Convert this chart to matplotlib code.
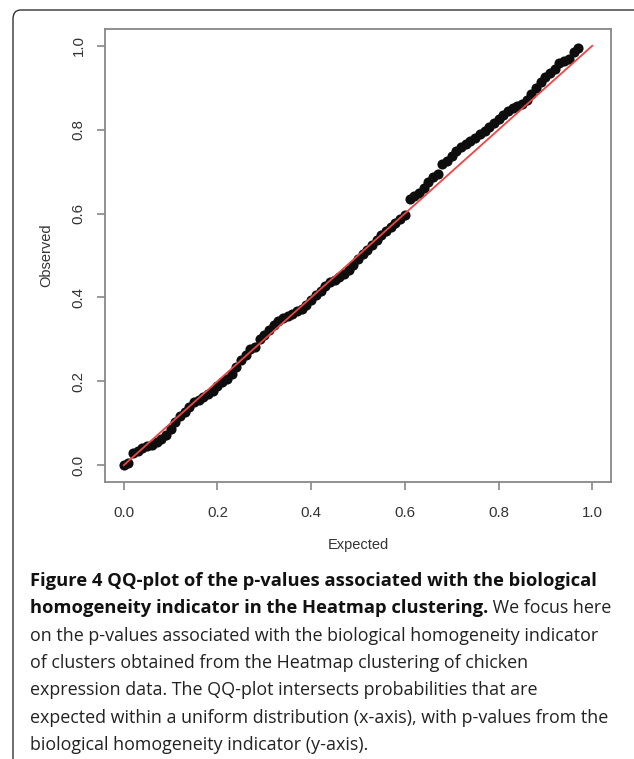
import matplotlib.pyplot as plt
from matplotlib.patches import FancyBboxPatch

# expected quantiles (x) and observed p-values (y)
expected = [0.00, 0.01, 0.02, 0.03, 0.04, 0.05, 0.06, 0.07, 0.08, 0.09,
            0.10, 0.11, 0.12, 0.13, 0.14, 0.15, 0.16, 0.17, 0.18, 0.19,
            0.20, 0.21, 0.22, 0.23, 0.24, 0.25, 0.26, 0.27, 0.28, 0.29,
            0.30, 0.31, 0.32, 0.33, 0.34, 0.35, 0.36, 0.37, 0.38, 0.39,
            0.40, 0.41, 0.42, 0.43, 0.44, 0.45, 0.46, 0.47, 0.48, 0.49,
            0.50, 0.51, 0.52, 0.53, 0.54, 0.55, 0.56, 0.57, 0.58, 0.59,
            0.60, 0.61, 0.62, 0.63, 0.64, 0.65, 0.66, 0.67, 0.68, 0.69,
            0.70, 0.71, 0.72, 0.73, 0.74, 0.75, 0.76, 0.77, 0.78, 0.79,
            0.80, 0.81, 0.82, 0.83, 0.84, 0.85, 0.86, 0.87, 0.88, 0.89,
            0.90, 0.91, 0.92, 0.93, 0.94, 0.95, 0.96, 0.97]
observed = [0.000, 0.005, 0.030, 0.035, 0.040, 0.046, 0.048, 0.055, 0.063, 0.072,
            0.086, 0.103, 0.118, 0.128, 0.140, 0.150, 0.156, 0.162, 0.170, 0.177,
            0.188, 0.198, 0.205, 0.218, 0.233, 0.250, 0.262, 0.276, 0.283, 0.300,
            0.310, 0.322, 0.334, 0.344, 0.350, 0.356, 0.361, 0.367, 0.373, 0.382,
            0.393, 0.405, 0.416, 0.428, 0.436, 0.442, 0.449, 0.456, 0.466, 0.478,
            0.492, 0.503, 0.512, 0.524, 0.536, 0.548, 0.558, 0.567, 0.578, 0.587,
            0.596, 0.634, 0.642, 0.650, 0.660, 0.675, 0.688, 0.695, 0.718, 0.726,
            0.738, 0.748, 0.758, 0.766, 0.773, 0.780, 0.789, 0.798, 0.807, 0.816,
            0.826, 0.836, 0.845, 0.852, 0.857, 0.861, 0.870, 0.886, 0.900, 0.913,
            0.925, 0.934, 0.945, 0.960, 0.963, 0.968, 0.985, 0.995]
ref_line = [0.0, 1.0]
ticks = [0.0, 0.2, 0.4, 0.6, 0.8, 1.0]
tick_labels = ["0.0", "0.2", "0.4", "0.6", "0.8", "1.0"]

caption_bold_1 = "Figure 4 QQ-plot of the p-values associated with the biological"
caption_bold_2 = "homogeneity indicator in the Heatmap clustering."
caption_rest_2 = " We focus here"
caption_lines = [
    "on the p-values associated with the biological homogeneity indicator",
    "of clusters obtained from the Heatmap clustering of chicken",
    "expression data. The QQ-plot intersects probabilities that are",
    "expected within a uniform distribution (x-axis), with p-values from the",
    "biological homogeneity indicator (y-axis).",
]

W, H = 634, 759
fig = plt.figure(figsize=(W / 100, H / 100), dpi=100)

# rounded frame, only top-left corner visible
frame = FancyBboxPatch((13 / W, -0.2), 1.5, 1.2 - 10 / H,
                       boxstyle="round,pad=0,rounding_size=0.012",
                       transform=fig.transFigure, fill=False,
                       edgecolor="#333333", linewidth=1.0)
fig.add_artist(frame)

ax = fig.add_axes([105 / W, 1 - 482 / H, 506 / W, 453 / H])
ax.plot(expected, observed, "o", color="#0d0d0d", markersize=7.3,
        markeredgewidth=0, zorder=2)
ax.plot(ref_line, ref_line, color="#ee4444", linewidth=1.3, zorder=3)

ax.set_xlim(-0.04, 1.04)
ax.set_ylim(-0.04, 1.04)
ax.set_xticks(ticks)
ax.set_xticklabels(tick_labels)
ax.set_yticks(ticks)
ax.set_yticklabels(tick_labels, rotation=90, va="center")
for s in ax.spines.values():
    s.set_color("#888888")
    s.set_linewidth(1.3)
ax.tick_params(axis="both", length=6, width=1.2, color="#888888",
               labelcolor="#333333", labelsize=10.8,
               labelfontfamily="Liberation Sans")
ax.tick_params(axis="x", pad=11)
ax.tick_params(axis="y", pad=8)
ax.set_xlabel("Expected", fontsize=10.5, color="#333333",
              family="Liberation Sans", labelpad=13)
ax.set_ylabel("Observed", fontsize=10.5, color="#333333",
              family="Liberation Sans", labelpad=13)

# caption
cap_font = "Open Sans"
cap_size = 12.9
bold_size = 13.2
x0 = 30 / W
ys = [581, 608, 636, 663, 690, 718, 745]
t1 = fig.text(x0, 1 - ys[0] / H, caption_bold_1, fontsize=bold_size,
              family=cap_font, weight="bold", va="center", color="#111111")
t2 = fig.text(x0, 1 - ys[1] / H, caption_bold_2, fontsize=bold_size,
              family=cap_font, weight="bold", va="center", color="#111111")
fig.canvas.draw()
bb = t2.get_window_extent()
fig.text(bb.x1 / W, 1 - ys[1] / H, caption_rest_2, fontsize=cap_size,
         family=cap_font, va="center", color="#222222")
for line, y in zip(caption_lines, ys[2:]):
    fig.text(x0, 1 - y / H, line, fontsize=cap_size, family=cap_font,
             va="center", color="#222222")

fig.savefig("out.png", dpi=100)
